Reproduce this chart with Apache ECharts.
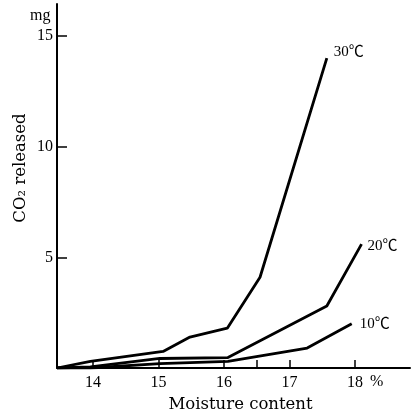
<!DOCTYPE html>
<html lang="en">
  <head>
    <meta charset="UTF-8" />
    <title>CO2 released vs moisture content</title>
    <script src="https://cdn.jsdelivr.net/npm/echarts@6.0.0/dist/echarts.min.js"></script>
    <style>
      html, body { margin: 0; padding: 0; background: #fff; }
    </style>
  </head>
  <body>
    <div id="chart" style="width: 411px; height: 414px"></div>

    <script type="text/javascript">
      // values (moisture %, CO2 mg)
      const moisture10 = [13.45, 13.96, 15.02, 16.06, 17.27, 17.95];
      const co2At10 = [0, 0, 0.2, 0.3, 0.9, 2.0];
      const moisture20 = [13.45, 13.96, 15.02, 16.06, 17.57, 18.1];
      const co2At20 = [0, 0.05, 0.43, 0.47, 2.8, 5.6];
      const moisture30 = [13.45, 13.96, 15.07, 15.48, 16.05, 16.55, 17.57];
      const co2At30 = [0, 0.3, 0.75, 1.4, 1.8, 4.1, 14.0];

      const curveNames = ["10℃", "20℃", "30℃"];
      const xTickLabels = [14, 15, 16, 17, 18];
      const xTickMarks = [14, 15, 16, 16.5, 17, 18];
      const yTickLabels = [5, 10, 15];

      const ink = "#000";
      const serif = "'Liberation Serif', 'Noto Sans CJK SC', serif";

      const pairs = (xs, ys) => xs.map((x, i) => [x, ys[i]]);

      let chart = echarts.init(document.getElementById("chart"));

      const lineSeries = (name, data, offset) => ({
        name: name,
        type: "line",
        data: data,
        showSymbol: false,
        symbol: "none",
        silent: true,
        lineStyle: { color: ink, width: 2.8 },
        endLabel: {
          show: true,
          formatter: name,
          color: ink,
          fontFamily: serif,
          fontSize: 15,
          offset: offset,
        },
      });

      const option = {
        animation: false,
        grid: { left: 57, right: 1, top: 4, bottom: 46, outerBoundsMode: "none" },
        xAxis: {
          type: "value",
          min: 13.45,
          max: 18.84,
          axisLine: { lineStyle: { color: ink, width: 2 } },
          axisTick: {
            inside: true,
            length: 8,
            lineStyle: { color: ink, width: 1.5 },
            customValues: xTickMarks,
          },
          axisLabel: {
            color: ink,
            fontFamily: serif,
            fontSize: 16,
            margin: 7,
            customValues: xTickLabels,
          },
          splitLine: { show: false },
          name: "Moisture content",
          nameLocation: "middle",
          nameGap: 28,
          nameTextStyle: {
            color: ink,
            fontFamily: "'DejaVu Serif', serif",
            fontSize: 16.5,
            padding: [0, 0, 0, 14],
          },
        },
        yAxis: {
          type: "value",
          min: 0,
          max: 16.45,
          axisLine: { show: true, lineStyle: { color: ink, width: 2 } },
          axisTick: {
            show: true,
            inside: true,
            length: 10,
            lineStyle: { color: ink, width: 1.5 },
            customValues: yTickLabels,
          },
          axisLabel: {
            color: ink,
            fontFamily: serif,
            fontSize: 16,
            margin: 4,
            customValues: yTickLabels,
          },
          splitLine: { show: false },
        },
        graphic: [
          {
            type: "text",
            left: 30,
            top: 8,
            style: { text: "mg", fill: ink, font: "16px " + serif },
          },
          {
            type: "text",
            left: 370,
            top: 374,
            style: { text: "%", fill: ink, font: "16px " + serif },
          },
          {
            type: "text",
            x: 21,
            y: 168,
            rotation: Math.PI / 2,
            style: {
              text: "CO₂ released",
              fill: ink,
              font: "16.5px 'DejaVu Serif', serif",
              align: "center",
              verticalAlign: "middle",
            },
          },
        ],
        series: [
          lineSeries(curveNames[0], pairs(moisture10, co2At10), [0, 0]),
          lineSeries(curveNames[1], pairs(moisture20, co2At20), [-2, 2]),
          lineSeries(curveNames[2], pairs(moisture30, co2At30), [-1, -6]),
        ],
      };

      chart.setOption(option);
    </script>
  </body>
</html>
